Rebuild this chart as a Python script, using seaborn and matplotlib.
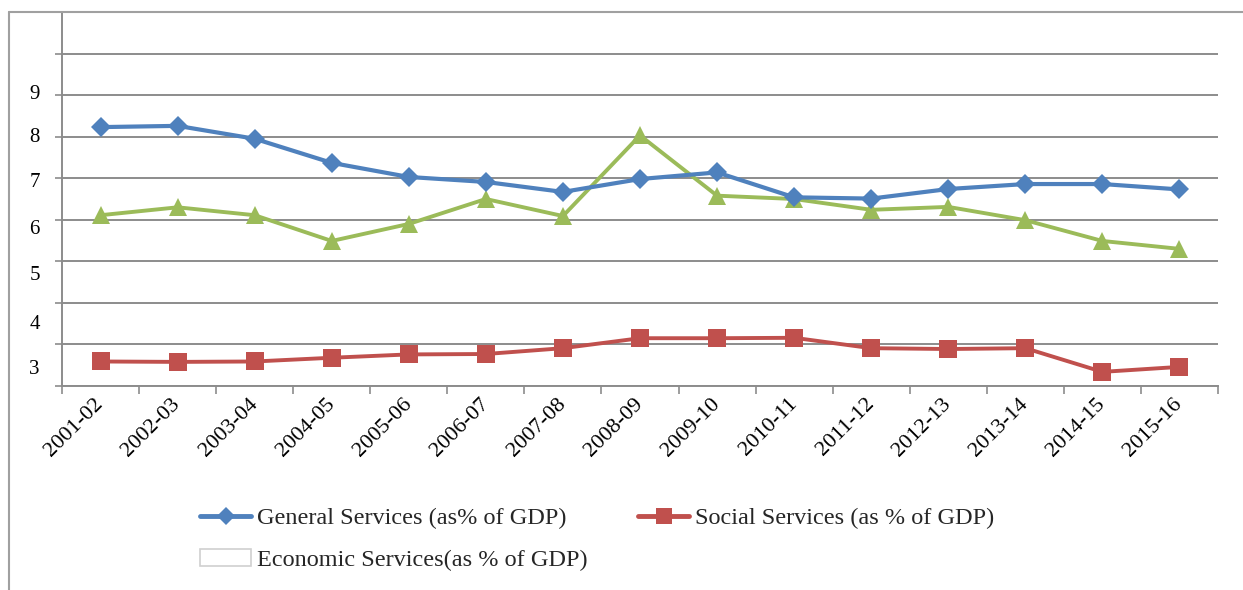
import matplotlib
matplotlib.use("Agg")
import matplotlib.pyplot as plt
import seaborn as sns
import pandas as pd
import numpy as np
from matplotlib.lines import Line2D
from matplotlib.patches import Patch

# ---- data ----
years = ['2001-02', '2002-03', '2003-04', '2004-05', '2005-06', '2006-07', '2007-08',
         '2008-09', '2009-10', '2010-11', '2011-12', '2012-13', '2013-14', '2014-15', '2015-16']
general = [8.23, 8.26, 7.95, 7.37, 7.03, 6.91, 6.67, 6.98, 7.14, 6.54, 6.51, 6.74, 6.86, 6.86, 6.73]
social = [2.59, 2.58, 2.59, 2.68, 2.76, 2.77, 2.91, 3.15, 3.15, 3.16, 2.91, 2.89, 2.91, 2.34, 2.46]
economic = [6.11, 6.30, 6.11, 5.49, 5.90, 6.50, 6.09, 8.03, 6.58, 6.50, 6.24, 6.31, 5.99, 5.49, 5.30]
y_tick_labels = ['9', '8', '7', '6', '5', '4', '3']

label_general = 'General Services (as% of GDP)'
label_social = 'Social Services (as % of GDP)'
label_economic = 'Economic Services(as % of GDP)'

# ---- style ----
sns.set_theme(style="white")
plt.rcParams['font.family'] = ['Liberation Serif', 'DejaVu Serif']

C_BLUE = '#4F81BD'
C_RED = '#C0504D'
C_GREEN = '#9BBB59'
C_GRID = '#8c8c8c'

W, H = 1243, 590
fig = plt.figure(figsize=(W / 100, H / 100), dpi=100)
ax = fig.add_axes([62 / W, 1 - 386 / H, (1218 - 62) / W, (386 - 12) / H])

pos = np.arange(len(years))
df = pd.DataFrame({'pos': pos, 'general': general, 'social': social, 'economic': economic})

sns.lineplot(data=df, x='pos', y='general', ax=ax, color=C_BLUE, lw=3.0,
             marker='D', markersize=10.5, markeredgewidth=0, zorder=4)
sns.lineplot(data=df, x='pos', y='economic', ax=ax, color=C_GREEN, lw=2.8,
             marker='^', markersize=13.5, markeredgewidth=0, zorder=3)
sns.lineplot(data=df, x='pos', y='social', ax=ax, color=C_RED, lw=2.8,
             marker='s', markersize=13.5, markeredgewidth=0, zorder=5)

ax.set_xlim(-0.5, len(years) - 0.5)
ax.set_ylim(2, 11)
ax.set_xlabel('')
ax.set_ylabel('')

# y axis: gridlines at integers, labels drawn slightly offset (as in original)
ax.set_yticks(np.arange(2, 11))
ax.set_yticklabels([''] * 9)
lab_pos = [9.07, 8.03, 6.95, 5.82, 4.72, 3.54, 2.46]
ax.set_yticks(lab_pos, labels=y_tick_labels, minor=True)
ax.yaxis.grid(True, which='major', color=C_GRID, lw=1.4)
ax.yaxis.grid(False, which='minor')
ax.tick_params(axis='y', which='major', direction='out', length=5, width=1.2, color=C_GRID, left=True)
ax.tick_params(axis='y', which='minor', length=0, pad=16, labelsize=15, labelcolor='black')

# x axis: ticks between categories
ax.set_xticks(pos)
ax.set_xticklabels(years, rotation=45, ha='right', va='center', rotation_mode='anchor')
ax.set_xticks(np.arange(-0.5, len(years)), minor=True)
ax.tick_params(axis='x', which='major', length=0, pad=11, labelsize=16, labelcolor='black')
ax.tick_params(axis='x', which='minor', direction='out', length=6, width=1.2, color=C_GRID, bottom=True)
ax.xaxis.grid(False)

for s in ['top', 'right']:
    ax.spines[s].set_visible(False)
for s in ['left', 'bottom']:
    ax.spines[s].set_color(C_GRID)
    ax.spines[s].set_linewidth(1.4)

# chart-area border (top and left)
fig.add_artist(Line2D([9 / W, 1.0], [1 - 12 / H, 1 - 12 / H], color='#a0a0a0', lw=1.5))
fig.add_artist(Line2D([9 / W, 9 / W], [1 - 12 / H, 0.0], color='#a0a0a0', lw=1.5))

# legend
h_gen = Line2D([], [], color=C_BLUE, lw=3.5, marker='D', markersize=9.5, markeredgewidth=0)
h_soc = Line2D([], [], color=C_RED, lw=3.5, marker='s', markersize=12, markeredgewidth=0)
h_eco = Patch(facecolor='white', edgecolor='#d0d0d0', lw=1.2)
common = dict(frameon=False, fontsize=17.5, handlelength=2.1, handletextpad=0.25,
              borderpad=0, borderaxespad=0, loc='center left')
fig.legend(handles=[h_gen], labels=[label_general], bbox_to_anchor=(200 / W, 1 - 518 / H), **common)
fig.legend(handles=[h_soc], labels=[label_social], bbox_to_anchor=(638 / W, 1 - 518 / H), **common)
fig.legend(handles=[h_eco], labels=[label_economic], bbox_to_anchor=(200 / W, 1 - 560 / H), **common)

fig.savefig('out.png', dpi=100)
